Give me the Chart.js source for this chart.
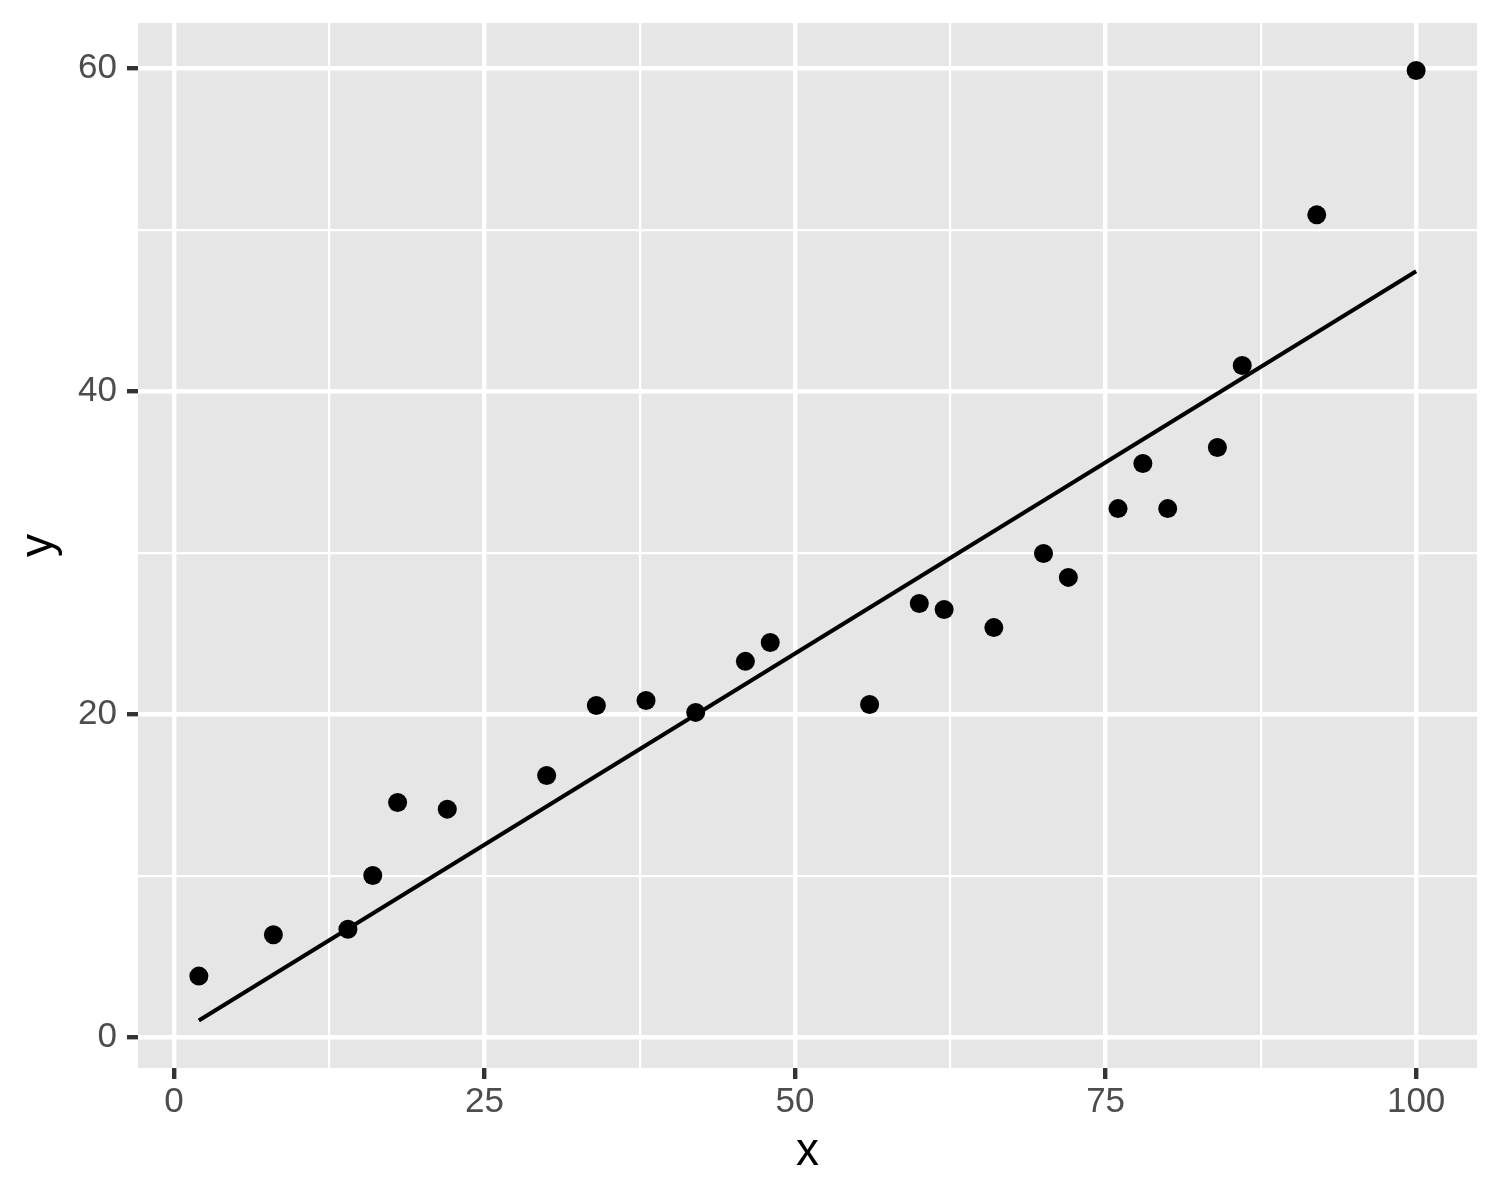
<!DOCTYPE html>
<html>
<head>
<meta charset="utf-8">
<script src="https://cdn.jsdelivr.net/npm/chart.js@4/dist/chart.umd.min.js"></script>
<style>
  html, body { margin: 0; padding: 0; background: #ffffff; }
  #wrap { width: 1500px; height: 1200px; }
</style>
</head>
<body>
<div id="wrap"><canvas id="c" width="1500" height="1200"></canvas></div>
<script>
// ---- data ----
const pointX = [2, 8, 14, 16, 18, 22, 30, 34, 38, 42, 46, 48, 56, 60, 62, 66, 70, 72, 76, 78, 80, 84, 86, 92, 100];
const pointY = [3.78, 6.34, 6.68, 10.01, 14.53, 14.12, 16.20, 20.54, 20.85, 20.11, 23.27, 24.44, 20.60, 26.85, 26.48, 25.36, 29.95, 28.47, 32.73, 35.52, 32.73, 36.51, 41.59, 50.92, 59.86];
const fitX = [2, 100];
const fitY = [1.03, 47.43];
const xMajorTicks = [0, 25, 50, 75, 100];
const xMinorTicks = [12.5, 37.5, 62.5, 87.5];
const yMajorTicks = [0, 20, 40, 60];
const yMinorTicks = [10, 30, 50];
const xRange = [-2.9, 104.9];
const yRange = [-1.91, 62.8];
const xTitle = 'x';
const yTitle = 'y';

const scatterData = pointX.map((x, i) => ({ x: x, y: pointY[i] }));
const fitData = fitX.map((x, i) => ({ x: x, y: fitY[i] }));

const panelBg = {
  id: 'panelBg',
  beforeDraw(chart) {
    const a = chart.chartArea;
    const ctx = chart.ctx;
    ctx.save();
    ctx.fillStyle = '#E6E6E6';
    ctx.fillRect(a.left, a.top, a.right - a.left, a.bottom - a.top);
    ctx.restore();
  }
};

function makeAxis(majors, minors, range, title, isX) {
  const isMajor = v => majors.some(m => Math.abs(m - v) < 1e-9);
  return {
    type: 'linear',
    position: isX ? 'bottom' : 'left',
    min: range[0],
    max: range[1],
    afterBuildTicks(scale) {
      scale.ticks = majors.concat(minors).sort((a, b) => a - b).map(v => ({ value: v }));
    },
    afterFit(scale) {
      if (isX) { scale.height = 132; } else { scale.width = 138; }
      scale.paddingTop = 0;
      scale.paddingBottom = 0;
      scale.paddingLeft = 0;
      scale.paddingRight = 0;
    },
    border: { display: false },
    grid: {
      color: '#FFFFFF',
      lineWidth: ctx => isMajor(ctx.tick.value) ? 4.4 : 2.2,
      drawTicks: true,
      tickLength: 11,
      tickWidth: 4.4,
      tickColor: ctx => isMajor(ctx.tick.value) ? '#333333' : 'rgba(0,0,0,0)'
    },
    ticks: {
      autoSkip: false,
      maxRotation: 0,
      minRotation: 0,
      padding: isX ? 2 : 10,
      color: '#4D4D4D',
      font: { family: '"Liberation Sans", Arial, sans-serif', size: 35 },
      callback: v => isMajor(v) ? String(v) : ''
    },
    title: {
      display: true,
      text: title,
      color: '#000000',
      font: { family: '"Liberation Sans", Arial, sans-serif', size: 46, lineHeight: 1 },
      padding: isX ? { top: 0, bottom: 25 } : { top: 16, bottom: 0 }
    }
  };
}

new Chart(document.getElementById('c'), {
  type: 'scatter',
  data: {
    datasets: [
      {
        type: 'scatter',
        label: 'points',
        data: scatterData,
        backgroundColor: '#000000',
        borderWidth: 0,
        pointRadius: 9.5,
        pointHoverRadius: 9.5,
        order: 1
      },
      {
        type: 'line',
        label: 'fit',
        data: fitData,
        borderColor: '#000000',
        borderWidth: 4,
        pointRadius: 0,
        fill: false,
        tension: 0,
        order: 2
      }
    ]
  },
  options: {
    responsive: false,
    devicePixelRatio: 1,
    animation: false,
    layout: { padding: { top: 23, right: 23, left: 0, bottom: 0 } },
    plugins: {
      legend: { display: false },
      tooltip: { enabled: false }
    },
    scales: {
      x: makeAxis(xMajorTicks, xMinorTicks, xRange, xTitle, true),
      y: makeAxis(yMajorTicks, yMinorTicks, yRange, yTitle, false)
    }
  },
  plugins: [panelBg]
});
</script>
</body>
</html>
